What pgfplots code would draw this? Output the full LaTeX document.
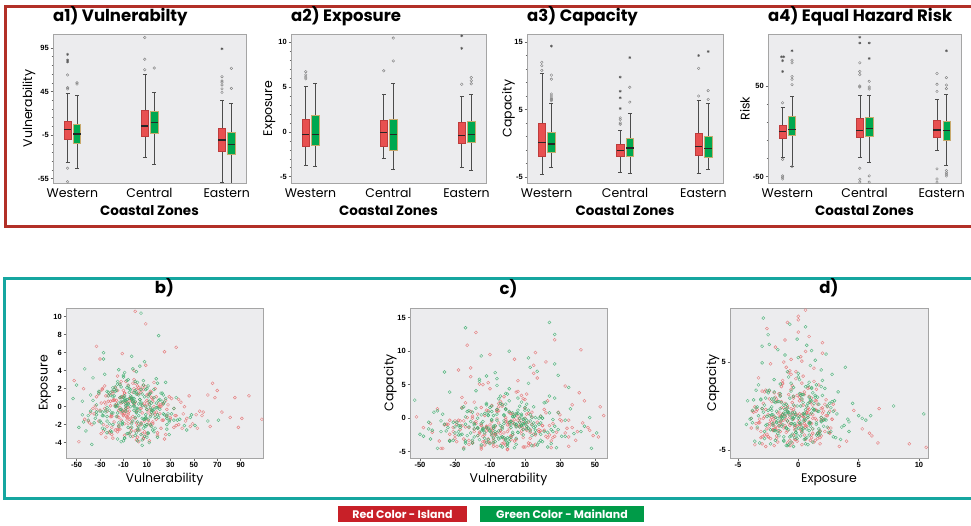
\documentclass[border=0pt]{standalone}
\usepackage{fontspec}
\usepackage{pgfplots}
\pgfplotsset{compat=1.18}
\usepgfplotslibrary{statistics}
\usepackage{pgfplotstable}
\setmainfont{Liberation Sans}
\newfontfamily\tickfont{Liberation Sans}
\newfontfamily\gothic{Poppins}
\newcommand\TitleFont{\gothic\bfseries\fontsize{16.5}{19}\selectfont}
\newcommand\LabFont{\gothic\fontsize{12.5}{14}\selectfont}
\newcommand\CZFont{\gothic\bfseries\fontsize{13.5}{15}\selectfont}
\newcommand\LegFont{\gothic\bfseries\fontsize{11}{13}\selectfont}
\newcommand\TickFont{\tickfont\bfseries\fontsize{7.5}{9}\selectfont}

\definecolor{frameRed}{RGB}{178,48,40}
\definecolor{frameTeal}{RGB}{22,166,160}
\definecolor{bgc}{RGB}{236,236,238}
\definecolor{axc}{RGB}{165,165,165}
\definecolor{fillR}{RGB}{232,80,80}
\definecolor{edgeR}{RGB}{190,60,60}
\definecolor{fillG}{RGB}{0,168,80}
\definecolor{edgeG}{RGB}{200,170,110}
\definecolor{ptR}{RGB}{230,112,112}
\definecolor{ptG}{RGB}{60,175,110}
\definecolor{legR}{RGB}{200,32,40}
\definecolor{legG}{RGB}{0,155,72}

\pgfplotsset{
 common/.style={scale only axis, axis background/.style={fill=bgc},
   axis line style={draw=axc, line width=0.9pt}, tick align=outside, tick pos=left,
   major tick length=2.5pt, minor tick length=1.5pt,
   every tick/.style={draw=black!60, line width=0.5pt},
   ticklabel style={font=\TickFont, inner sep=1.5pt},
   /pgf/number format/assume math mode=true},
 boxaxis/.style={common, xmin=0.75, xmax=3.25, xtick={1,2,3},
   xticklabels={Western,Central,Eastern},
   xtick style={draw=none},
   xticklabel style={font=\LabFont, inner sep=0pt, yshift=-3pt},
   minor y tick num=4,
   xlabel={Coastal Zones},
   xlabel style={font=\CZFont, at={(axis description cs:0.5,-0.188)}, anchor=center, inner sep=0pt},
   title style={font=\TitleFont, at={(axis description cs:0,1)}, anchor=base west, yshift=6.7pt, inner sep=0pt},
   ylabel style={font=\LabFont, anchor=center, inner sep=0pt}},
 scat/.style={common,
   title style={font=\TitleFont, at={(axis description cs:0.5,1)}, anchor=base, yshift=8pt, inner sep=0pt},
   xlabel style={font=\LabFont, at={(axis description cs:0.5,-0.145)}, anchor=center, inner sep=0pt},
   ylabel style={font=\LabFont, anchor=center, inner sep=0pt}},
 bxR/.style={boxplot/draw direction=y, boxplot/box extend=0.095, boxplot/whisker extend=0.05,
   draw=black!70, line width=0.5pt, solid,
   boxplot/every box/.style={fill=fillR, draw=edgeR},
   boxplot/every median/.style={draw=black!85, line width=1.3pt}},
 bxG/.style={boxplot/draw direction=y, boxplot/box extend=0.095, boxplot/whisker extend=0.05,
   draw=black!70, line width=0.5pt, solid,
   boxplot/every box/.style={fill=fillG, draw=edgeG},
   boxplot/every median/.style={draw=black!85, line width=1.3pt}},
 outC/.style={only marks, mark=o, mark size=1.3pt, mark options={draw=gray, line width=0.4pt}},
 outS/.style={only marks, mark=asterisk, mark size=1.4pt, mark options={draw=black!65, line width=0.5pt}},
 ptRs/.style={only marks, mark=o, mark size=1.5pt, mark options={draw=ptR, line width=0.45pt, draw opacity=0.85}},
 ptGs/.style={only marks, mark=o, mark size=1.5pt, mark options={draw=ptG, line width=0.45pt, draw opacity=0.85}},
}

% Island (red): Vulnerability, Exposure, Capacity
\pgfplotstableread{
V E C
-12 0.4 -1.2
5 -1.8 0.5
-25 1.2 -3.1
18 -0.6 -2.0
-3 -2.7 1.8
31 0.9 -0.4
-8 -0.2 -3.8
-17 2.1 -1.5
9 -1.3 2.9
2 -3.4 -2.6
-34 0.1 -0.9
14 1.6 0.2
-6 -0.9 -4.2
47 -2.2 -1.8
-21 0.6 6.2
0 2.6 -0.6
23 -1.5 -2.9
-11 -0.4 1.1
7 1.9 -1.3
-29 -3.0 -3.5
12 0.3 0.7
-2 -1.1 -2.2
62 1.3 4.3
-15 -2.5 -1.0
4 0.8 -0.2
-38 -0.7 -4.5
-33 6.7 -0.3
-9 -1.9 -2.4
16 0.0 9.8
-19 1.5 -1.6
1 -3.7 -0.7
39 0.5 -3.3
-5 -1.4 2.2
-26 2.3 -1.1
10 -0.3 0.0
-14 -2.1 -2.7
85 1.0 -3.9
21 -0.8 1.3
-1 3.0 -0.5
-31 -1.6 -2.0
6 0.2 5.6
-22 -2.9 -1.4
13 1.7 -3.0
55 -0.5 0.4
-7 -1.2 -2.5
-18 0.7 12.8
-44 2.0 -0.8
19 -3.2 -1.9
-13 -0.1 -4.0
29 1.1 0.9
-4 -2.4 -2.3
8 0.4 3.4
0 10.6 -4.7
35 -1.0 -0.3
-10 1.8 -3.6
74 -0.6 1.9
-27 -2.0 -1.7
15 0.9 7.9
-3 -1.7 -2.8
-6 2.4 -0.1
-36 -0.2 -1.0
25 -3.6 -4.4
11 1.4 0.6
-16 0.1 -2.1
44 -1.3 2.6
-8 2.8 -1.5
2 -2.6 -3.2
-23 0.6 10.9
17 -0.9 -0.6
97 1.2 -2.6
-12 -1.5 1.2
25 6.1 -3.4
-30 -0.4 -0.4
33 -2.3 4.8
-2 1.6 -3.7
20 0.3 -1.1
-20 -1.1 0.3
9 2.2 -2.9
-48 -3.9 -1.4
22 0.0 8.4
14 1.0 -0.9
-6 -0.7 -2.2
-15 -2.8 1.6
4 1.9 -3.4
108 -1.4 -0.2
-11 0.5 -1.7
9 9.2 -4.3
-33 -0.3 -2.4
1 -1.8 0.8
12 1.3 -4.1
-24 -2.2 -1.3
37 0.8 2.0
-5 -0.5 -0.7
66 2.6 -3.0
27 -1.0 11.7
8 -3.3 -1.9
-9 1.5 -0.5
22 0.2 -2.7
-40 -1.6 1.4
35 6.6 -4.2
41 -0.8 3.8
-14 -2.5 -3.5
18 1.1 -2.0
-1 0.4 0.1
81 -1.2 -1.6
-28 2.0 7.2
10 -3.0 -4.3
26 0.7 -0.8
-7 -0.1 -2.3
-19 1.7 2.4
5 -2.0 -1.2
58 -0.6 -0.3
-11 5.9 -3.1
15 -1.9 6.7
-4 0.9 -1.8
30 -1.4 0.5
-13 2.5 -2.5
0 -2.7 -4.6
-21 0.1 1.0
46 1.2 -1.4
-10 -0.9 9.5
7 -3.5 -0.6
70 1.8 -2.8
-26 -0.2 3.1
24 -1.5 -1.1
-3 0.6 -3.8
-52 2.9 0.2
13 -2.1 -2.1
-16 0.3 5.1
34 -1.0 -1.5
2 1.4 -0.4
-8 -0.4 -3.3
53 -2.4 1.7
-30 5.3 -2.6
42 0.0 10.2
91 -1.3 -0.9
-12 1.0 -1.9
6 -0.7 4.0
-20 -3.1 -3.6
11 0.5 -1.3
-7 -1.1 -2.4
10 0.7 -0.8
-20 -2.3 -3.7
3 1.5 0.6
-14 -0.4 -1.5
26 -3.1 -2.9
-1 0.2 1.4
-28 1.9 -0.3
15 -1.7 -4.1
-9 -0.8 -1.9
6 2.2 0.2
-17 -2.6 -2.6
20 0.0 -1.1
-4 -1.3 2.5
-33 1.1 -3.3
12 -3.8 -0.6
0 0.5 -2.0
-11 -0.6 5.3
37 -2.0 -1.4
-22 1.4 -3.9
4 -0.2 -0.9
-6 -1.9 1.0
16 2.7 -2.5
-25 0.3 -4.4
8 -2.8 -1.2
-13 1.0 0.4
52 -0.9 -2.8
-2 -3.3 3.2
-18 0.8 -0.5
11 -1.5 -1.8
-30 1.7 -3.0
1 -0.5 -1.0
22 -2.4 0.8
-8 0.6 -2.2
-15 3.4 -4.6
30 -1.2 -0.2
-5 -3.0 1.7
9 0.1 -1.6
-39 -1.8 -3.4
17 2.0 6.0
-12 -0.7 -1.3
2 -2.1 -2.7
-23 1.2 0.1
13 -0.3 -3.8
43 -1.6 -0.7
-3 0.9 2.1
-19 -3.5 -2.0
7 2.4 -1.1
-10 -1.0 4.4
24 0.4 -2.5
-27 -2.7 -0.4
5 1.6 -3.2
-6 -0.1 1.2
18 -1.4 -1.7
-16 0.7 -2.3
64 -2.2 0.5
-1 4.0 -4.0
-35 -0.8 -0.9
10 1.3 2.8
-9 -3.2 -1.5
28 0.2 -2.1
-21 -1.1 7.5
3 2.1 -0.6
-13 -2.5 -3.5
14 -0.4 0.9
-4 1.0 -1.9
49 -1.9 -2.6
-26 0.5 1.6
7 -3.6 -0.1
-15 1.8 -4.3
0 -1.3 -1.0
-8 0.3 -2.9
19 -2.9 0.3
-31 1.4 -1.4
11 -0.6 3.6
-2 2.6 -3.1
-18 -1.7 -0.8
33 -0.2 -2.2
-5 0.9 1.1
88 -2.3 -1.6
-11 1.1 -3.6
6 -3.0 -0.3
-24 -0.5 2.3
15 0.6 -2.4
-7 -1.5 -1.2
2 2.3 0.7
-37 -2.0 -4.5
21 0.0 -1.8
-14 -1.2 5.0
9 4.6 -0.5
40 -2.4 -2.0
-3 0.8 -1.3
-20 -0.9 0.0
12 -1.8 -3.7
-9 1.5 1.9
27 -0.3 -2.7
-29 0.4 -0.9
4 -2.6 8.8
-12 2.8 -1.5
57 -1.0 -3.0
-17 0.1 0.6
8 -1.6 -2.3
1 1.9 -1.6
-25 -3.4 -0.4
16 -0.7 -3.9
-6 0.5 1.3
35 -2.1 -2.8
-10 1.2 -1.0
5 -0.2 3.9
-43 -1.4 -2.1
13 -0.9 -1.7
-1 2.0 -0.2
-22 -2.8 -3.3
23 0.3 2.6
-15 -1.1 -1.1
3 -3.9 -2.5
68 1.0 0.4
-8 -0.5 -4.2
-19 0.7 -0.7
10 -2.0 1.5
}\island

% Mainland (green): Vulnerability, Exposure, Capacity
\pgfplotstableread{
V E C
-8 -0.5 -1.5
3 1.3 0.3
-19 -2.0 -2.8
12 0.2 1.2
-31 1.7 -0.6
0 -1.2 -3.9
-4 -3.3 -1.1
21 0.8 2.3
-13 -0.3 -2.2
7 2.4 0.0
-24 -1.6 -3.4
-2 0.5 -0.8
15 -2.6 1.7
-10 1.0 -1.9
28 -0.8 -4.4
-37 -4.2 0.6
5 1.9 -1.3
-16 -1.1 5.8
9 0.0 -2.5
-6 -2.3 -0.3
1 1.4 1.0
-28 -0.6 -2.0
18 3.1 -3.6
-11 -1.9 0.4
-45 0.6 -1.6
-24 -2.9 13.5
5 10.4 -0.9
33 -0.2 -2.7
-3 1.1 2.0
11 -1.4 -1.2
-15 -3.6 -4.0
24 0.3 0.8
-7 2.1 -2.3
-33 -0.9 3.9
8 -2.1 -1.0
-1 1.6 -3.1
14 -0.4 0.1
-43 4.2 -1.8
29 -1.7 6.4
-9 0.7 -2.6
2 -2.5 -0.5
-18 1.2 1.5
19 -0.1 -3.3
-12 -3.9 -1.4
-53 0.9 2.7
6 -1.3 -2.1
26 2.7 -0.2
-15 -0.7 9.3
20 7.9 0.0
13 -2.0 0.5
-14 0.4 -1.7
0 1.8 -2.9
-40 -1.5 1.1
10 -0.3 -0.7
-20 -2.8 -3.7
35 1.0 4.6
-8 0.1 -1.2
3 -1.0 0.2
-26 3.6 -2.4
17 -2.4 7.0
-2 0.6 -0.4
-35 -1.8 -1.9
22 1.5 2.4
-11 -0.5 -3.2
5 -3.1 0.7
-17 2.2 -1.5
48 -0.9 -4.5
-6 0.3 1.3
9 -2.2 -0.1
-23 1.2 -2.6
27 -1.3 12.5
-27 6.0 -1.1
1 -0.2 -3.0
-42 -2.7 0.9
16 1.9 -1.8
-4 0.0 3.3
-30 -1.6 -2.2
7 2.9 -0.6
-9 -3.5 1.8
25 0.5 -3.8
-19 -0.7 -1.0
12 1.4 5.2
-48 -2.3 -2.7
4 0.8 0.3
-27 5.3 -1.4
20 -1.2 -3.5
-1 -0.4 2.1
-15 2.5 -0.8
1 -2.9 10.0
-7 0.2 -2.0
8 1.1 0.6
-22 -1.9 -1.3
14 -0.6 -4.1
-10 3.3 1.6
38 -1.4 -2.3
-36 0.7 6.9
2 -3.8 -0.5
-5 1.6 -3.1
18 -0.1 0.0
-3 5.6 -1.6
27 -2.0 3.0
-3 0.9 -2.8
-24 -1.1 -0.9
10 2.0 1.2
-12 -0.3 -3.6
44 -2.6 -1.2
24 1.3 14.3
6 -4.3 -2.1
-8 0.4 0.4
15 -0.8 -0.7
-20 1.7 -3.3
71 -1.5 2.5
-14 4.1 -1.5
3 -2.2 0.8
23 0.6 -4.3
-38 -0.5 -2.0
-6 2.3 5.9
11 -3.0 -0.3
-1 0.1 1.4
-28 -1.0 -2.5
8 5.0 -1.1
-11 -1.7 0.5
5 0.3 -3.0
27 -2.5 8.1
13 1.5 -1.9
-45 -0.9 -0.6
0 2.8 3.6
19 -3.4 -2.4
-9 0.9 1.0
-25 -0.4 -4.6
9 -1.2 -0.8
-4 1.9 2.2
51 -2.1 -2.2
-17 0.0 -1.4
1 3.9 4.4
-33 -0.6 -3.4
16 -2.8 0.1
-12 1.1 6.3
29 -1.5 -1.7
-2 4.2 -2.9
-5 0.9 -1.9
8 -1.4 0.4
-16 1.8 -3.2
2 -0.2 -1.0
-26 -2.5 1.5
14 0.4 -2.6
-9 1.2 -0.3
0 -3.2 -4.2
-20 -0.7 0.9
11 2.3 -1.6
-3 -1.9 -2.8
-12 0.6 2.2
19 -0.9 -0.7
-7 2.9 -3.5
-34 -1.3 -1.4
6 -3.7 0.7
-1 0.0 3.7
23 1.5 -2.1
-14 -2.2 -0.5
4 0.8 -4.4
-22 -0.4 1.1
9 1.9 -1.7
-4 -2.8 -2.9
-17 0.2 0.0
27 -1.1 -1.2
-10 3.5 -3.8
1 -0.6 2.6
-29 -1.8 -0.6
16 1.0 -2.3
-6 -3.0 4.9
5 0.5 -1.0
-13 2.5 -3.0
-2 -1.6 0.5
21 -0.3 -2.0
-38 1.3 -0.4
7 -2.4 1.8
-8 0.7 -3.6
12 -4.0 -1.5
-24 1.7 0.2
31 -0.8 -2.7
-11 -2.0 0.9
3 0.3 -2.4
-19 1.1 -0.8
17 -1.2 -4.0
-5 2.0 2.9
-30 -0.5 -1.3
10 -3.4 -0.1
-1 0.9 -3.3
36 -1.5 1.4
-15 0.1 -1.9
1 1.6 -0.6
-21 -2.7 -2.2
13 -0.1 7.6
-7 0.8 -1.1
-44 -1.7 -3.1
4 4.5 0.3
25 -0.9 -1.7
-12 2.2 2.0
-3 -2.3 -4.3
18 0.4 -0.9
-27 -1.0 -2.5
6 1.4 1.2
-9 -3.5 -0.2
0 0.6 -3.7
15 -0.4 -1.4
-18 1.9 4.1
42 -2.1 -2.0
-6 3.0 0.6
9 -1.3 -1.0
-33 0.2 -3.4
20 0.7 0.0
-14 -1.8 -1.8
2 2.7 -2.9
-25 -0.6 1.7
11 -2.9 -0.7
-4 1.2 -4.1
-16 0.0 5.5
7 -1.4 -1.3
-50 2.4 -2.4
29 -3.1 0.8
-8 -0.2 -3.0
13 -1.1 -0.4
-23 1.6 1.0
3 -2.6 -2.1
-11 0.5 -1.5
24 -0.8 3.3
-36 3.2 -0.9
5 -1.9 -3.9
-2 0.9 0.4
16 -0.3 -1.2
-19 2.1 -1.6
8 -3.3 2.4
-6 0.3 -2.7
33 -1.5 -0.3
-13 1.0 0.7
1 -0.7 -3.5
-28 -2.4 -1.1
12 0.6 9.0
-9 3.8 -2.2
47 -1.2 0.1
4 -0.5 -0.8
-17 1.7 -2.6
10 -2.0 1.6
-3 0.8 -1.3
-40 -1.0 -4.5
19 2.6 0.3
-10 -3.8 -1.9
6 0.1 3.0
-21 1.3 -0.5
62 -1.6 -2.8
-1 0.4 1.3
14 -2.2 -1.0
-31 1.5 -3.3
9 -0.9 -0.2
-7 -3.0 6.8
26 0.9 -2.0
-15 2.8 0.5
2 -1.7 -1.4
-24 -0.1 -3.7
11 1.1 2.1
}\mainland

\begin{document}
\begin{tikzpicture}[x=1pt,y=1pt]
\useasboundingbox (0,0) rectangle (971,525);
\draw[frameRed, line width=3pt] (990,518.5) -- (5.5,518.5) -- (5.5,298.5) -- (990,298.5);
\draw[frameTeal, line width=3pt] (990,246) -- (4.5,246) -- (4.5,26.5) -- (990,26.5);

% ---------- a1 ----------
\begin{axis}[boxaxis, at={(53pt,342pt)}, width=193pt, height=149pt,
  ymin=-60, ymax=111, ytick={-55,-5,45,95},
  title={a1) Vulnerabilty}, ylabel={Vulnerability},
  ylabel style={at={(axis description cs:-0.124,0.5)}}]
\addplot[bxR, boxplot prepared={draw position=0.939, lower whisker=-36, lower quartile=-10, median=1.4, upper quartile=11.4, upper whisker=42.8}] coordinates {};
\addplot[bxG, boxplot prepared={draw position=1.061, lower whisker=-43.4, lower quartile=-13.9, median=-3.8, upper quartile=7.6, upper whisker=40.5}] coordinates {};
\addplot[bxR, boxplot prepared={draw position=1.939, lower whisker=-31, lower quartile=-5.8, median=5.3, upper quartile=23, upper whisker=65}] coordinates {};
\addplot[bxG, boxplot prepared={draw position=2.061, lower whisker=-38.8, lower quartile=-3.2, median=9.5, upper quartile=22, upper whisker=43.6}] coordinates {};
\addplot[bxR, boxplot prepared={draw position=2.939, lower whisker=-59, lower quartile=-23, median=-10.7, upper quartile=3.4, upper whisker=34.5}] coordinates {};
\addplot[bxG, boxplot prepared={draw position=3.061, lower whisker=-62, lower quartile=-26.8, median=-16, upper quartile=-2, upper whisker=31}] coordinates {};
\addplot[outC] coordinates {(0.939,48) (0.939,49.5) (0.939,64) (0.939,-43) (0.939,-58.5) (1.061,55) (1.061,53.6) (1.939,107) (1.939,82) (1.939,70) (2.061,72) (2.939,44) (2.939,48) (2.939,52.5) (2.939,55.5) (2.939,57) (2.939,62) (3.061,71.6) (3.061,48.6)};
\addplot[outS] coordinates {(0.939,81) (0.939,79) (0.939,87.6) (2.939,94)};
\end{axis}

% ---------- a2 ----------
\begin{axis}[boxaxis, at={(291pt,342pt)}, width=195pt, height=149pt,
  ymin=-5.7, ymax=10.9, ytick={-5,0,5,10},
  title={a2) Exposure}, ylabel={Exposure},
  ylabel style={at={(axis description cs:-0.111,0.5)}}]
\addplot[bxR, boxplot prepared={draw position=0.939, lower whisker=-3.7, lower quartile=-1.57, median=-0.3, upper quartile=1.39, upper whisker=5.1}] coordinates {};
\addplot[bxG, boxplot prepared={draw position=1.061, lower whisker=-3.8, lower quartile=-1.5, median=-0.3, upper quartile=1.8, upper whisker=5.4}] coordinates {};
\addplot[bxR, boxplot prepared={draw position=1.939, lower whisker=-2.9, lower quartile=-1.6, median=-0.1, upper quartile=1.3, upper whisker=4.2}] coordinates {};
\addplot[bxG, boxplot prepared={draw position=2.061, lower whisker=-4.2, lower quartile=-2.1, median=-0.3, upper quartile=1.45, upper whisker=5.4}] coordinates {};
\addplot[bxR, boxplot prepared={draw position=2.939, lower whisker=-4.0, lower quartile=-1.3, median=-0.4, upper quartile=1.1, upper whisker=4.0}] coordinates {};
\addplot[bxG, boxplot prepared={draw position=3.061, lower whisker=-4.3, lower quartile=-1.2, median=-0.3, upper quartile=1.2, upper whisker=4.2}] coordinates {};
\addplot[outC] coordinates {(0.939,6.7) (0.939,6.35) (0.939,6.1) (0.939,5.9) (1.939,6.8) (2.061,7.9) (2.061,10.45) (2.939,5.3) (3.061,5.35) (3.061,5.7) (3.061,6.05)};
\addplot[outS] coordinates {(2.939,9.3) (2.939,10.7)};
\end{axis}

% ---------- a3 ----------
\begin{axis}[boxaxis, at={(527pt,342pt)}, width=196pt, height=149pt,
  ymin=-5.9, ymax=16.2, ytick={-5,5,15},
  title={a3) Capacity}, ylabel={Capacity},
  ylabel style={at={(axis description cs:-0.095,0.5)}}]
\addplot[bxR, boxplot prepared={draw position=0.939, lower whisker=-4.55, lower quartile=-1.97, median=0.12, upper quartile=2.96, upper whisker=10.4}] coordinates {};
\addplot[bxG, boxplot prepared={draw position=1.061, lower whisker=-3.6, lower quartile=-1.3, median=-0.1, upper quartile=1.6, upper whisker=6.0}] coordinates {};
\addplot[bxR, boxplot prepared={draw position=1.939, lower whisker=-4.35, lower quartile=-1.97, median=-1.1, upper quartile=-0.2, upper whisker=1.9}] coordinates {};
\addplot[bxG, boxplot prepared={draw position=2.061, lower whisker=-4.45, lower quartile=-2.0, median=-0.7, upper quartile=0.78, upper whisker=4.5}] coordinates {};
\addplot[bxR, boxplot prepared={draw position=2.939, lower whisker=-4.45, lower quartile=-1.8, median=-0.5, upper quartile=1.5, upper whisker=6.4}] coordinates {};
\addplot[bxG, boxplot prepared={draw position=3.061, lower whisker=-3.8, lower quartile=-2.1, median=-0.8, upper quartile=1.1, upper whisker=5.9}] coordinates {};
\addplot[outC] coordinates {(0.939,10.8) (0.939,11.5) (0.939,12.0) (1.061,6.3) (1.061,6.5) (1.061,6.7) (1.061,7.0) (1.061,7.3) (1.061,9.5) (1.061,10.1) (1.939,2.8) (1.939,3.0) (1.939,3.5) (1.939,3.76) (2.061,6.1) (2.061,8.3) (2.939,7.0) (2.939,11.1) (3.061,6.5) (3.061,7.8)};
\addplot[outS] coordinates {(1.061,14.4) (1.939,5.15) (1.939,6.75) (1.939,7.7) (1.939,9.8) (2.061,12.7) (2.939,13.0) (3.061,13.6)};
\end{axis}

% ---------- a4 ----------
\begin{axis}[boxaxis, at={(768pt,342pt)}, width=193pt, height=149pt,
  ymin=-57, ymax=107.4, ytick={-50,50},
  title={a4) Equal Hazard Risk}, ylabel={Risk},
  ylabel style={at={(axis description cs:-0.119,0.5)}}]
\addplot[bxR, boxplot prepared={draw position=0.939, lower whisker=-28.9, lower quartile=-8.1, median=0, upper quartile=6.7, upper whisker=27}] coordinates {};
\addplot[bxG, boxplot prepared={draw position=1.061, lower whisker=-38.1, lower quartile=-4.4, median=1.9, upper quartile=16.7, upper whisker=38.2}] coordinates {};
\addplot[bxR, boxplot prepared={draw position=1.939, lower whisker=-28.9, lower quartile=-6.3, median=0.8, upper quartile=14.1, upper whisker=39.7}] coordinates {};
\addplot[bxG, boxplot prepared={draw position=2.061, lower whisker=-34, lower quartile=-5.1, median=3, upper quartile=15.2, upper whisker=40}] coordinates {};
\addplot[bxR, boxplot prepared={draw position=2.939, lower whisker=-21.4, lower quartile=-6.3, median=1.6, upper quartile=11.9, upper whisker=35.2}] coordinates {};
\addplot[bxG, boxplot prepared={draw position=3.061, lower whisker=-37.8, lower quartile=-10.3, median=0.8, upper quartile=11.1, upper whisker=40.4}] coordinates {};
\addplot[outC] coordinates {(0.939,31.5) (0.939,-31) (0.939,-49.2) (0.939,-50.7) (0.939,-52.6) (1.061,51.5) (1.061,57.4) (1.061,60.4) (1.061,75.6) (1.061,78.5) (1.061,-38.9) (1.939,48.9) (1.939,50) (1.939,62.6) (1.939,66) (1.939,75.6) (1.939,-40.7) (1.939,-52.9) (1.939,-56) (2.061,46.7) (2.061,48.9) (2.061,55.2) (2.061,-49.2) (2.061,-56) (2.939,44.1) (2.939,51.9) (2.939,63.8) (2.939,-41.4) (2.939,-52.6) (2.939,-56) (3.061,47.1) (3.061,51.1) (3.061,59.3) (3.061,-43.3) (3.061,-45.6) (3.061,-47.3) (3.061,-49.2)};
\addplot[outS] coordinates {(0.925,82.3) (0.953,82.3) (0.939,78) (0.939,66) (1.061,88.9) (1.939,97.4) (1.939,103.8) (2.061,80.4) (2.061,97.4) (3.061,88.9)};
\end{axis}

% ---------- b ----------
\begin{axis}[scat, at={(66pt,67pt)}, width=197pt, height=150pt,
  xmin=-59, xmax=109, ymin=-5.71, ymax=10.97,
  xtick={-50,-30,...,90}, ytick={-4,-2,...,10},
  title={b)}, xlabel={Vulnerability}, ylabel={Exposure},
  ylabel style={at={(axis description cs:-0.107,0.5)}}]
\addplot[ptRs] table[x=V,y=E]{\island};
\addplot[ptGs] table[x=V,y=E]{\mainland};
\end{axis}

% ---------- c ----------
\begin{axis}[scat, at={(410pt,67pt)}, width=197pt, height=150pt,
  xmin=-55.7, xmax=56.9, ymin=-5.94, ymax=16.45,
  xtick={-50,-30,...,50}, ytick={-5,0,5,10,15},
  title={c)}, xlabel={Vulnerability}, ylabel={Capacity},
  ylabel style={at={(axis description cs:-0.10,0.5)}}]
\addplot[ptRs] table[x=V,y=C]{\island};
\addplot[ptGs] table[x=V,y=C]{\mainland};
\end{axis}

% ---------- d ----------
\begin{axis}[scat, at={(730pt,67pt)}, width=198pt, height=150pt,
  xmin=-5.66, xmax=10.75, ymin=-5.91, ymax=11.14,
  xtick={-5,0,5,10}, ytick={-5,5},
  title={d)}, xlabel={Exposure}, ylabel={Capacity},
  ylabel style={at={(axis description cs:-0.086,0.5)}}]
\addplot[ptRs] table[x=E,y=C]{\island};
\addplot[ptGs] table[x=E,y=C]{\mainland};
\end{axis}

% ---------- legend ----------
\fill[legR] (338,3) rectangle (467,19);
\node[text=white, font=\LegFont, inner sep=0pt] at (402.5,11) {Red Color - Island};
\fill[legG] (480,3) rectangle (644,19);
\node[text=white, font=\LegFont, inner sep=0pt] at (562,11) {Green Color - Mainland};
\end{tikzpicture}
\end{document}
